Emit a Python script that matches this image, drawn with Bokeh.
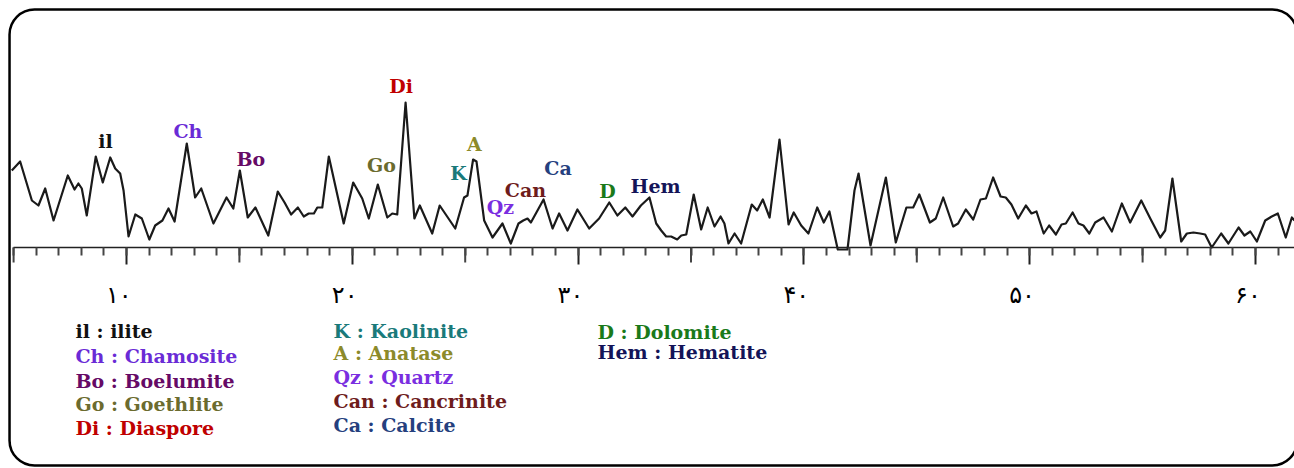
from bokeh.plotting import figure
from bokeh.models import LinearAxis, FixedTicker, Range1d, BoxAnnotation
from bokeh.core.properties import value
from bokeh.embed import file_html
from bokeh.resources import INLINE

# ---- XRD pattern (2-theta, relative intensity) ----
two_theta = [4.92, 5.29, 5.81, 6.10, 6.40, 6.77, 7.40, 7.70, 7.87, 8.02, 8.24, 8.64,
             8.95, 9.28, 9.50, 9.72, 9.87, 10.09, 10.39, 10.68, 11.01, 11.27, 11.59,
             11.86, 12.13, 12.67, 13.04, 13.31, 13.85, 14.43, 14.73, 15.02, 15.37,
             15.71, 16.28, 16.70, 17.00, 17.29, 17.59, 17.85, 18.07, 18.30, 18.45,
             18.67, 18.96, 19.62, 20.04, 20.44, 20.73, 21.13, 21.55, 21.77, 21.99,
             22.36, 22.75, 22.99, 23.54, 23.87, 24.56, 24.95, 25.10, 25.35, 25.50,
             25.84, 26.21, 26.65, 27.02, 27.36, 27.57, 27.76, 27.91, 28.47, 28.87,
             29.16, 29.53, 29.97, 30.49, 30.93, 31.38, 31.74, 32.09, 32.41, 32.78,
             33.16, 33.46, 33.68, 33.90, 34.12, 34.39, 34.57, 34.79, 35.12, 35.45,
             35.74, 36.04, 36.31, 36.48, 36.66, 36.93, 37.22, 37.69, 37.93, 38.18,
             38.48, 38.92, 39.32, 39.55, 39.88, 40.20, 40.59, 40.88, 41.13, 41.50,
             41.93, 42.24, 42.42, 42.95, 43.63, 44.07, 44.54, 44.84, 45.11, 45.58,
             45.84, 46.17, 46.61, 46.83, 47.17, 47.50, 47.82, 48.06, 48.38, 48.71,
             48.94, 49.19, 49.49, 49.83, 50.08, 50.30, 50.62, 50.86, 51.16, 51.41,
             51.60, 51.90, 52.16, 52.38, 52.64, 52.90, 53.27, 53.64, 54.08, 54.45,
             54.94, 55.34, 55.78, 56.00, 56.32, 56.71, 56.96, 57.25, 57.55, 57.77,
             58.06, 58.48, 58.80, 59.25, 59.51, 59.77, 60.06, 60.43, 60.72, 60.99,
             61.34, 61.61, 61.73]
intensity = [77, 86, 47, 42, 59, 27, 72, 58, 64, 59, 32, 91,
             65, 90, 79, 74, 57, 11, 33, 29, 8, 22, 27,
             39, 26, 104, 50, 59, 24, 50, 39, 77, 30,
             40, 12, 56, 45, 33, 40, 31, 34, 34, 40,
             40, 91, 24, 65, 49, 29, 63, 30, 34, 33,
             145, 29, 42, 14, 42, 19, 50, 52, 88, 86,
             27, 10, 24, 4, 24, 27, 29, 25, 48, 19,
             34, 17, 38, 19, 29, 45, 32, 40, 31, 42,
             50, 24, 17, 11, 11, 8, 12, 13, 53, 18,
             40, 21, 31, 24, 4, 14, 4, 43, 37, 48,
             30, 108, 23, 35, 22, 14, 40, 25, 36, -2,
             -2, 57, 74, 2, 70, 5, 40, 40, 53, 25,
             29, 50, 21, 24, 38, 28, 48, 49, 70, 51,
             50, 43, 29, 42, 34, 36, 14, 22, 13, 23,
             24, 35, 24, 22, 14, 25, 30, 16, 44, 25,
             47, 29, 10, 17, 69, 6, 14, 15, 14, 13,
             0, 14, 4, 20, 12, 16, 6, 27, 31, 34,
             10, 30, 27]

# ---- phase labels on the peaks ----
peak_names = ["il", "Ch", "Bo", "Go", "Di", "K", "A", "Qz", "Can", "Ca", "D", "Hem"]
peak_x = [9.07, 12.72, 15.51, 21.29, 22.16, 24.70, 25.41, 26.56, 27.67, 29.11, 31.30, 33.43]
peak_y = [107, 117, 89, 83, 162, 75, 104, 41, 58, 80, 57, 62]
peak_colors = ["#111111", "#6a2bd6", "#660a66", "#6b6b2e", "#c00000", "#1a7a7a",
               "#8c8a2a", "#7a2ee0", "#6e1c1c", "#25407e", "#1a7a1a", "#141458"]

# ---- key below the chart ----
legend_col1 = ["il : ilite", "Ch : Chamosite", "Bo : Boelumite", "Go : Goethlite", "Di : Diaspore"]
legend_col1_colors = ["#111111", "#6a2bd6", "#660a66", "#6b6b2e", "#c00000"]
legend_col2 = ["K : Kaolinite", "A : Anatase", "Qz : Quartz", "Can : Cancrinite", "Ca : Calcite"]
legend_col2_colors = ["#1a7a7a", "#8c8a2a", "#7a2ee0", "#6e1c1c", "#25407e"]
legend_col3 = ["D : Dolomite", "Hem : Hematite"]
legend_col3_colors = ["#1a7a1a", "#141458"]

# ---- axis ticks ----
major_ticks = [10, 20, 30, 40, 50, 60]
major_labels = ["\u06f1\u06f0", "\u06f2\u06f0", "\u06f3\u06f0", "\u06f4\u06f0", "\u06f5\u06f0", "\u06f6\u06f0"]
mid_ticks = [5, 15, 25, 35, 45, 55]
minor_ticks = [t for t in range(5, 62)]

X0, X1 = 4.420, 61.727
Y0, Y1 = -221, 247

p = figure(width=1294, height=468, x_range=Range1d(X0, X1), y_range=Range1d(Y0, Y1),
           x_axis_type=None, y_axis_type=None, toolbar_location=None,
           output_backend="svg", min_border=0)
p.outline_line_color = None
p.background_fill_color = "white"
p.border_fill_color = "white"

# rounded frame around the whole picture
frame_box = BoxAnnotation(left=4.82, right=61.85, top=238, bottom=-218,
                          fill_alpha=0, fill_color=None, line_color="black",
                          line_alpha=1.0, line_width=2.5, border_radius=25)
p.add_layout(frame_box)

# main axis with labels
ax = LinearAxis(ticker=FixedTicker(ticks=major_ticks, minor_ticks=minor_ticks),
                fixed_location=0, bounds=(5, X1))
ax.major_label_overrides = {t: lab + "\u00a0\u00a0" for t, lab in zip(major_ticks, major_labels)}
ax.major_tick_in = 0
ax.major_tick_out = 17
ax.minor_tick_in = 0
ax.minor_tick_out = 8
ax.major_tick_line_width = 2
ax.minor_tick_line_width = 2
ax.major_tick_line_color = "#222222"
ax.minor_tick_line_color = "#444444"
ax.axis_line_width = 1.5
ax.axis_line_color = "#222222"
ax.major_label_standoff = 16
ax.major_label_text_font = "DejaVu Sans"
ax.major_label_text_font_size = "24px"
ax.major_label_text_color = "black"
p.add_layout(ax, "below")

# medium-length ticks at the fives
p.segment(x0=mid_ticks, y0=[0] * len(mid_ticks), x1=mid_ticks, y1=[-15] * len(mid_ticks),
          line_color="#444444", line_width=2)

# the pattern
p.line(two_theta, intensity, line_color="#1a1a1a", line_width=2.2, line_join="round")

# peak labels
p.text(x=peak_x, y=peak_y, text=peak_names, text_color=peak_colors,
       text_font=value("DejaVu Serif"), text_font_style="bold", text_font_size="19px",
       text_align="center", text_baseline="alphabetic")

# key
col_x = [7.74, 19.17, 30.86]
col1_y = [-83, -108, -133, -156, -180]
col2_y = [-83, -105, -129, -153, -177]
col3_y = [-84, -104]
for texts, colors, xs, ys in [(legend_col1, legend_col1_colors, col_x[0], col1_y),
                              (legend_col2, legend_col2_colors, col_x[1], col2_y),
                              (legend_col3, legend_col3_colors, col_x[2], col3_y)]:
    p.text(x=[xs] * len(texts), y=ys, text=texts, text_color=colors,
           text_font=value("DejaVu Serif"), text_font_style="bold", text_font_size="19px",
           text_align="left", text_baseline="middle")

open("out.html", "w").write(file_html(p, INLINE))
